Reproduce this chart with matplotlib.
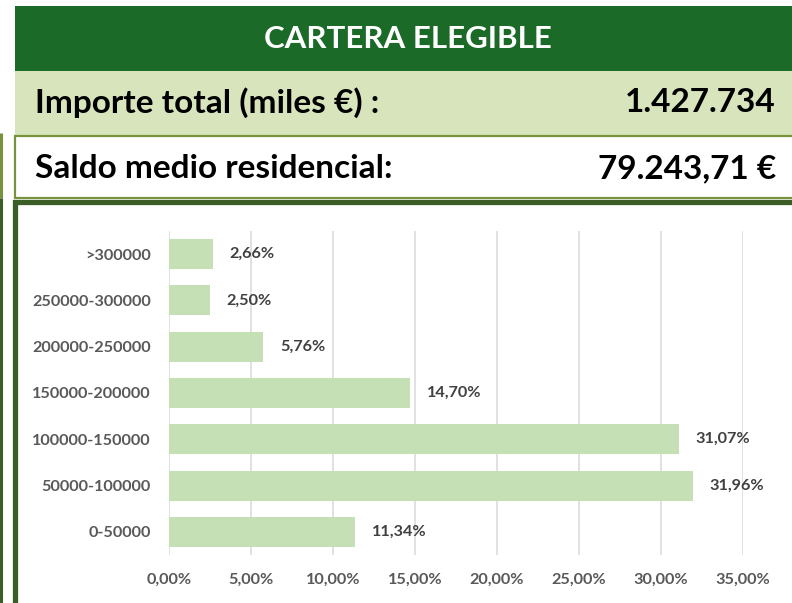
import matplotlib
matplotlib.use("Agg")
import matplotlib.pyplot as plt
from matplotlib.patches import Rectangle

plt.rcParams['font.family'] = ['Lato', 'DejaVu Sans']

# data
categories = ['0-50000', '50000-100000', '100000-150000', '150000-200000',
              '200000-250000', '250000-300000', '>300000']
values = [11.34, 31.96, 31.07, 14.70, 5.76, 2.50, 2.66]
xticks = [0, 5, 10, 15, 20, 25, 30, 35]

title = 'CARTERA ELEGIBLE'
row1 = ('Importe total (miles €) :', '1.427.734')
row2 = ('Saldo medio residencial:', '79.243,71 €')

W, H = 792, 603
fig = plt.figure(figsize=(W / 100, H / 100), dpi=100)

# background layer in pixel coords for the header boxes
bg = fig.add_axes([0, 0, 1, 1])
bg.set_xlim(0, W)
bg.set_ylim(H, 0)
bg.axis('off')

dark = '#1b6a28'
light = '#d8e4bc'
olive = '#77933c'
frame = '#3a5e25'

bg.add_patch(Rectangle((15, 6), W - 15, 65, color=dark, lw=0))
bg.add_patch(Rectangle((15, 71), W - 15, 64, color=light, lw=0))
bg.add_patch(Rectangle((15, 135.5), W + 20, 62, facecolor='white', edgecolor=olive, lw=1.6))
bg.add_patch(Rectangle((14.5, 201.5), W + 20, 450, facecolor='white', edgecolor=frame, lw=3.8))
bg.plot([1, 1], [133, 198], color=olive, lw=2.2, solid_capstyle='butt')
bg.plot([1, 1], [198, H], color=frame, lw=2.2, solid_capstyle='butt')

bg.text(408, 39, title, color='white', fontsize=22.5, fontweight='bold', ha='center', va='center')
bg.text(35, 103, row1[0], color='black', fontsize=24, fontweight='bold', ha='left', va='center')
bg.text(776, 103, row1[1], color='black', fontsize=24, fontweight='bold', ha='right', va='center')
bg.text(35, 169, row2[0], color='black', fontsize=24, fontweight='bold', ha='left', va='center')
bg.text(776, 169, row2[1], color='black', fontsize=24, fontweight='bold', ha='right', va='center')

# bar chart
ax = fig.add_axes([169 / W, 1 - 555 / H, (743 - 169) / W, (555 - 231) / H])
ax.barh(range(len(categories)), values, height=0.65, color='#c5e0b4', zorder=3)
ax.set_xlim(0, 35)
ax.set_ylim(-0.5, len(categories) - 0.5)
ax.set_yticks(range(len(categories)))
ax.set_yticklabels(categories)
ax.set_xticks(xticks)
ax.set_xticklabels([f'{t:.2f}%'.replace('.', ',') for t in xticks])
ax.grid(axis='x', color='#d9d9d9', lw=1.1, zorder=0)
for s in ax.spines.values():
    s.set_visible(False)
ax.tick_params(length=0, labelsize=11.7, labelcolor='#595959')
ax.tick_params(axis='y', pad=13)
ax.tick_params(axis='x', pad=13)
for lab in ax.get_xticklabels() + ax.get_yticklabels():
    lab.set_fontweight('bold')

for i, v in enumerate(values):
    ax.annotate(f'{v:.2f}%'.replace('.', ','), (v, i), xytext=(12, 0),
                textcoords='offset points', va='center', ha='left',
                fontsize=11.7, fontweight='bold', color='#404040')

fig.savefig('out.png', dpi=100)
